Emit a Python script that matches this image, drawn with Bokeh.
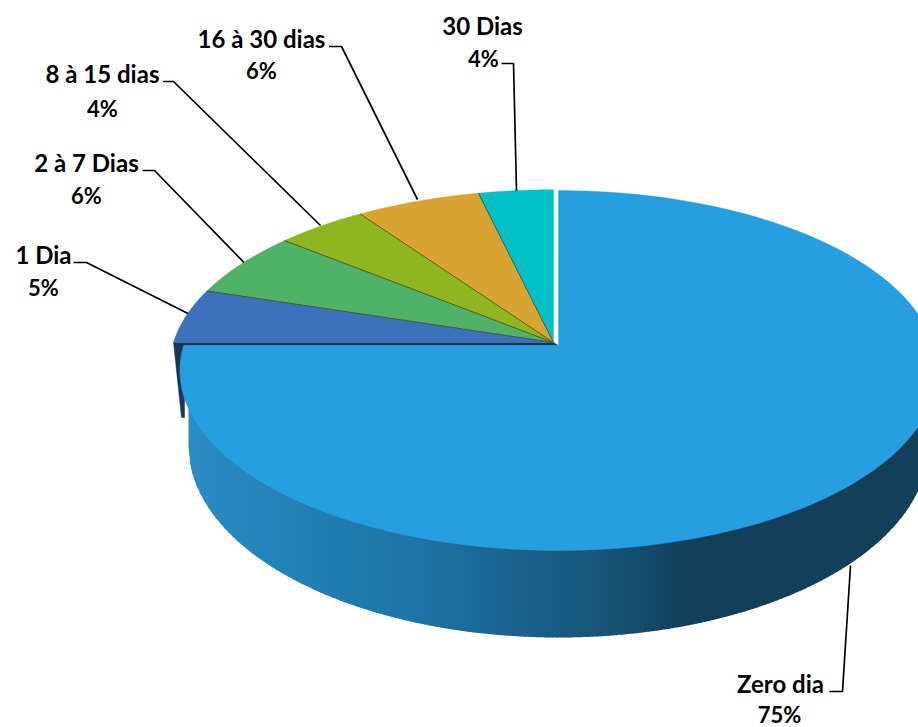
import numpy as np
from bokeh.plotting import figure
from bokeh.models import Range1d
from bokeh.core.properties import value
from bokeh.embed import file_html
from bokeh.resources import INLINE

categories = ["Zero dia", "1 Dia", "2 à 7 Dias", "8 à 15 dias", "16 à 30 dias", "30 Dias"]
shares = [75.0, 5.0, 6.0, 4.4, 6.0, 3.6]
colors = ["#259fdf", "#3a72bc", "#4fb266", "#8fb51f", "#d8a431", "#00c2c6"]

FONT = "Lato"
FS = "24px"

p = figure(width=918, height=727, x_range=Range1d(0, 918), y_range=Range1d(727, 0),
           output_backend="svg", toolbar_location=None, min_border=0,
           background_fill_color="white", border_fill_color="white", outline_line_color=None)
p.axis.visible = False
p.grid.visible = False


def rim(theta_deg, cx, cy, a, b, k):
    t = np.radians(theta_deg)
    x, y = np.sin(t), np.cos(t)
    d = 1 + k * y
    return cx + b * x / d, cy - a * y / d


BIG = dict(cx=558, cy=345, a=176.5, b=375, k=0.139)
SMALL = dict(cx=553, cy=342, a=174, b=380, k=0.139)

# wall of the big slice: vertical strips with a left-to-right shading
stops_x = [188, 300, 420, 500, 620, 690, 930]
stops_c = [(0x2b, 0x8d, 0xc4), (0x22, 0x80, 0xb5), (0x1e, 0x74, 0xa6), (0x1b, 0x65, 0x93),
           (0x17, 0x52, 0x72), (0x12, 0x3f, 0x5a), (0x12, 0x3f, 0x5a)]
edges = np.arange(188, 929, 4.0)
xs, ys, cs = [], [], []
for x0 in edges[:-1]:
    x1 = x0 + 5.0
    xx = np.linspace(x0, x1, 4)
    bot = 445 + 192 * np.sqrt(np.clip(1 - ((xx - 558) / 370) ** 2, 0, 1))
    xs.append(list(xx) + [x1, x0])
    ys.append(list(bot) + [400, 400])
    m = x0 + 2
    rgb = [int(np.interp(m, stops_x, [s[i] for s in stops_c])) for i in range(3)]
    cs.append("#%02x%02x%02x" % tuple(rgb))
p.patches(xs, ys, fill_color=cs, line_color=None)

# dark cut face under the small slices
p.patch([173, 553, 558, 184, 184, 181], [342, 342, 345, 345, 417, 417], fill_color="#1a3558", line_color="#1a3558", line_width=0.5)

# top faces, starting at 12 o'clock, clockwise
start = 0.0
for i, (s, c) in enumerate(zip(shares, colors)):
    span = s / 100 * 360
    th = np.linspace(start, start + span, 120)
    g = BIG if i == 0 else SMALL
    rx, ry = rim(th, **g)
    p.patch([g["cx"]] + list(rx), [g["cy"]] + list(ry), fill_color=c, line_color=c, line_width=0.4)
    if i > 1:
        ex, ey = rim(np.array([start]), **g)
        p.line([g["cx"], ex[0]], [g["cy"], ey[0]], line_color="#3d3a1c", line_width=1, line_alpha=0.75)
    start += span

# leader lines
leaders = [
    ([829, 842, 850], [691, 691, 565]),
    ([73, 86, 187.5], [262, 262, 313]),
    ([142, 154, 243.5], [170, 170, 262]),
    ([162.5, 173, 320], [81, 81, 225]),
    ([328.5, 341, 417], [46, 46, 199]),
    ([501, 513, 516], [63, 63, 190.5]),
]
for lx, ly in leaders:
    p.line(lx, ly, line_color="black", line_width=1.7)

# labels
name_pos = [(780, 683), (43, 254), (86, 162), (102, 73), (261, 38), (482, 25)]
pct_pos = [(779, 714), (43, 287), (86, 195), (102, 108), (261, 70), (483, 58)]
for name, s, (nx, ny), (vx, vy) in zip(categories, shares, name_pos, pct_pos):
    p.text([nx], [ny], text=[name], text_font=value(FONT), text_font_size=FS, text_font_style="bold",
           text_color="black", text_align="center", text_baseline="middle")
    p.text([vx], [vy], text=[f"{round(s)}%"], text_font=value(FONT), text_font_size="22px", text_font_style="bold",
           text_color="black", text_align="center", text_baseline="middle")

open("out.html", "w").write(file_html(p, INLINE))
